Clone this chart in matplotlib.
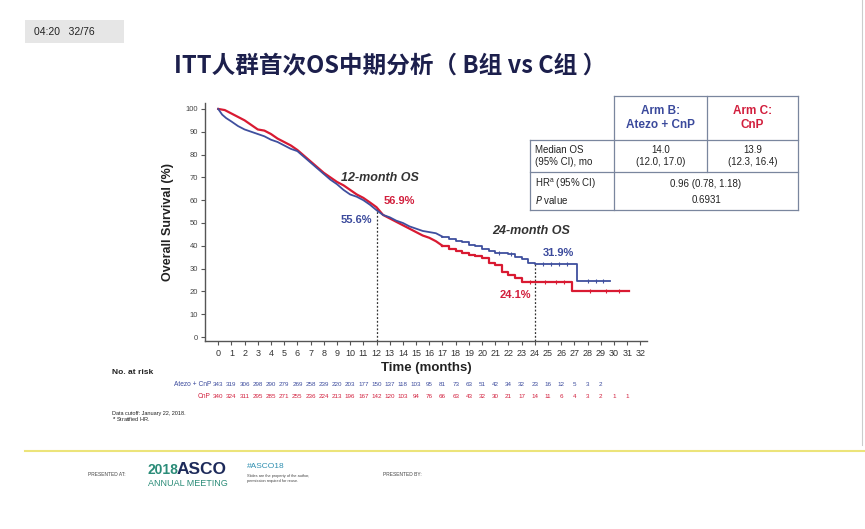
"""
ITT OS interim analysis slide (Arm B vs Arm C), KM curves with at-risk table
"""
import matplotlib
matplotlib.use("Agg")
import matplotlib.pyplot as plt
from matplotlib.patches import Rectangle
from matplotlib.lines import Line2D
import numpy as np

# ---- data ----
blue_t = [0, 0.3, 0.6, 1.0, 1.5, 2.0, 2.5, 3.0, 3.5, 4.0, 4.5, 5.0, 5.5, 6.0,
          6.5, 7.0, 7.5, 8.0, 8.5, 9.0, 9.5, 10.0, 10.5, 11.0, 11.5, 12.0,
          12.5, 13.0, 13.5, 14.0, 14.5, 15.0, 15.5, 16.0, 16.5, 17.0, 17.5,
          18.0, 18.5, 19.0, 19.5, 20.0, 20.5, 21.0, 22.0, 22.5, 23.0, 23.5,
          24.0, 27.2, 29.7]
blue_s = [100, 97.5, 96, 94.5, 92.5, 91, 90, 89, 88, 86.5, 85.5, 84, 82.5,
          81.5, 79, 76.5, 74, 71.5, 69, 67, 64.5, 62.5, 61.5, 60, 58, 55.6,
          53.5, 52.5, 51, 50, 48.5, 47.5, 46.5, 46, 45.5, 44, 43, 42, 41.5,
          40.5, 40, 38.5, 37.5, 37, 36.5, 35, 34, 32.5, 31.9, 24.5, 24.5]

red_t = [0, 0.5, 1.0, 1.5, 2.0, 2.5, 3.0, 3.5, 4.0, 4.5, 5.0, 5.5, 6.0, 6.5,
         7.0, 7.5, 8.0, 8.5, 9.0, 9.5, 10.0, 10.5, 11.0, 11.5, 12.0, 12.5,
         13.0, 13.5, 14.0, 14.5, 15.0, 15.5, 16.0, 16.5, 17.0, 17.5, 18.0,
         18.5, 19.0, 19.5, 20.0, 20.5, 21.0, 21.5, 22.0, 22.5, 23.0, 26.8,
         31.1]
red_s = [100, 99.5, 98, 96.5, 95, 93, 91, 90.5, 89, 87, 85.5, 84, 82, 79.5,
         77, 74.5, 72, 70, 68, 66.5, 64.5, 62.5, 61, 59, 56.9, 53.5, 52, 50.5,
         49, 47.5, 46, 44.5, 43.5, 42, 40, 38.5, 37.5, 37, 36, 35.5, 34.5,
         32.5, 31.5, 28.5, 27, 26, 24.1, 20, 20]

blue_cens = [21.3, 22.2, 24.6, 25.2, 25.8, 26.4, 28.0, 28.6, 29.2]
red_cens = [23.6, 24.8, 25.6, 26.2, 28.2, 29.4, 30.4]

risk_blue = [343, 319, 306, 298, 290, 279, 269, 258, 239, 220, 203, 177, 150,
             137, 118, 103, 95, 81, 73, 63, 51, 42, 34, 32, 23, 16, 12, 5, 3, 2]
risk_red = [340, 324, 311, 295, 285, 271, 255, 236, 224, 213, 196, 167, 142,
            120, 103, 94, 76, 66, 63, 43, 32, 30, 21, 17, 14, 11, 6, 4, 3, 2,
            1, 1]

landmarks = [12, 24]
blue_land = [55.6, 31.9]
red_land = [56.9, 24.1]

# where the curves stop looking continuous and show clear steps
blue_step_from = 17.0
red_step_from = 17.0

BLUE = "#3f4f9e"
RED = "#d91a32"
BLUE_TXT = "#3b4a9c"
RED_TXT = "#d21f3d"
EN = ["Liberation Sans", "DejaVu Sans"]
CJK = ["Noto Sans CJK SC", "DejaVu Sans"]

W, H = 865, 529


def fx(x):
    return x / W


def fy(y):
    return 1 - y / H


def step_at(ts, ss, t):
    i = np.searchsorted(ts, t, side="right") - 1
    return ss[i]


def km_curve(ax, ts, ss, t_step, color, lw, z):
    """dense part drawn as a line, sparse tail as steps"""
    ts = np.asarray(ts)
    ss = np.asarray(ss)
    k = np.searchsorted(ts, t_step)
    ax.plot(ts[:k + 1], ss[:k + 1], color=color, lw=lw, zorder=z,
            solid_joinstyle="round")
    ax.step(ts[k:], ss[k:], where="post", color=color, lw=lw, zorder=z)


fig = plt.figure(figsize=(W / 100, H / 100), dpi=100)
fig.patch.set_facecolor("white")

# overlay in pixel coords for slide decorations
ov = fig.add_axes([0, 0, 1, 1])
ov.set_xlim(0, W)
ov.set_ylim(H, 0)
ov.axis("off")
ov.set_zorder(0)

# time stamp box
ov.add_patch(Rectangle((25, 20), 99, 23, facecolor="#e6e6e6", edgecolor="none"))
ov.text(34, 32, "04:20   32/76", fontsize=7.5, family=EN, color="#222222",
        va="center")

# title
ov.text(390, 66, "ITT人群首次OS中期分析（ B组 vs C组 ）", fontsize=17,
        family=CJK, weight="heavy", color="#1c1f4c", ha="center", va="center")

# ---- KM axes ----
ax = fig.add_axes([fx(205), fy(341), fx(647) - fx(205), fy(103) - fy(341)])
ax.set_zorder(2)
ax.patch.set_alpha(0)
ax.set_xlim(-1, 32.5)
ax.set_ylim(-1.75, 102.6)

km_curve(ax, red_t, red_s, red_step_from, RED, 1.6, 3)
km_curve(ax, blue_t, blue_s, blue_step_from, BLUE, 1.3, 4)
ax.plot(blue_cens, [step_at(blue_t, blue_s, t) for t in blue_cens], ls="none",
        marker="|", ms=3, mew=0.8, color=BLUE, zorder=4)
ax.plot(red_cens, [step_at(red_t, red_s, t) for t in red_cens], ls="none",
        marker="|", ms=3, mew=0.8, color=RED, zorder=4)

for t, b, r in zip(landmarks, blue_land, red_land):
    ax.vlines(t, ax.get_ylim()[0], max(b, r), colors="#333333",
              linestyles=(0, (1.5, 1.5)), lw=0.9, zorder=2)

for side in ["top", "right"]:
    ax.spines[side].set_visible(False)
for side in ["left", "bottom"]:
    ax.spines[side].set_color("#555555")
    ax.spines[side].set_linewidth(1.0)
ax.set_xticks(range(0, 33))
ax.set_yticks(range(0, 101, 10))
ax.tick_params(axis="both", length=3, width=0.8, color="#555555",
               labelsize=5.5, labelcolor="#444444", pad=2)
for lab in ax.get_xticklabels() + ax.get_yticklabels():
    lab.set_family(EN)
ax.tick_params(axis="x", labelsize=6.5, labelcolor="#333333", pad=3)

ax.set_ylabel("Overall Survival (%)", fontsize=9, weight="bold", family=EN,
              color="#222222", labelpad=8)
ax.set_xlabel("Time (months)", fontsize=9.5, weight="bold", family=EN,
              color="#222222", labelpad=3)

# landmark annotations
ax.text(9.3, 69.5, "12-month OS", fontsize=9, weight="bold", style="italic",
        family=EN, color="#333333", va="center")
ax.text(12.5, 59.5, f"{red_land[0]}%", fontsize=8, weight="bold", family=EN,
        color=RED_TXT, va="center")
ax.text(11.7, 51.5, f"{blue_land[0]}%", fontsize=8, weight="bold", family=EN,
        color=BLUE_TXT, va="center", ha="right")
ax.text(20.8, 46.5, "24-month OS", fontsize=9, weight="bold", style="italic",
        family=EN, color="#333333", va="center")
ax.text(24.6, 36.8, f"{blue_land[1]}%", fontsize=8, weight="bold", family=EN,
        color=BLUE_TXT, va="center")
ax.text(23.7, 18.5, f"{red_land[1]}%", fontsize=8, weight="bold", family=EN,
        color=RED_TXT, va="center", ha="right")

# at-risk table, x in data coords, y in pixels
trans = matplotlib.transforms.blended_transform_factory(ax.transData,
                                                        ov.transData)
ov.text(112, 372, "No. at risk", fontsize=6, weight="bold", family=EN,
        color="#222222", va="center")
ov.text(211, 385, "Atezo + CnP", fontsize=4.8, family=EN,
        color=BLUE_TXT, ha="right", va="center")
ov.text(211, 397, "CnP", fontsize=4.8, family=EN, color=RED_TXT,
        ha="right", va="center")
for i, n in enumerate(risk_blue):
    ov.text(i, 385, str(n), fontsize=4.5, family=EN, color=BLUE_TXT,
            ha="center", va="center", transform=trans)
for i, n in enumerate(risk_red):
    ov.text(i, 397, str(n), fontsize=4.5, family=EN, color=RED_TXT,
            ha="center", va="center", transform=trans)

ov.text(112, 413, "Data cutoff: January 22, 2018.", fontsize=4, family=EN,
        color="#222222", va="center")
ov.text(112, 420, "$^{a}$ Stratified HR.", fontsize=4, family=EN,
        color="#222222", va="center")

# ---- results table ----
tc = "#7a869e"
c0, c1, c2, c3 = 530, 614, 707, 798
r0, r1, r2, r3 = 96, 140, 172, 210
lw_t = 0.9
for (x0, y0, x1, y1) in [(c1, r0, c3, r0), (c0, r1, c3, r1), (c0, r2, c3, r2),
                         (c0, r3, c3, r3), (c0, r1, c0, r3), (c1, r0, c1, r3),
                         (c2, r0, c2, r2), (c3, r0, c3, r3)]:
    ov.add_line(Line2D([x0, x1], [y0, y1], color=tc, lw=lw_t))
ov.text((c1 + c2) / 2, (r0 + r1) / 2, "Arm B:\nAtezo + CnP", fontsize=8.5,
        weight="bold", family=EN, color=BLUE_TXT, ha="center", va="center",
        linespacing=1.3)
ov.text((c2 + c3) / 2, (r0 + r1) / 2, "Arm C:\nCnP", fontsize=8.5,
        weight="bold", family=EN, color=RED_TXT, ha="center", va="center",
        linespacing=1.3)
ov.text(c0 + 5, (r1 + r2) / 2, "Median OS\n(95% CI), mo", fontsize=7,
        family=EN, color="#222222", va="center", linespacing=1.25)
ov.text((c1 + c2) / 2, (r1 + r2) / 2, "14.0\n(12.0, 17.0)", fontsize=7,
        family=EN, color="#222222", ha="center", va="center", linespacing=1.25)
ov.text((c2 + c3) / 2, (r1 + r2) / 2, "13.9\n(12.3, 16.4)", fontsize=7,
        family=EN, color="#222222", ha="center", va="center", linespacing=1.25)
ov.text(c0 + 5, r2 + 12, "HR$^{\\mathregular{a}}$ (95% CI)", fontsize=7,
        family=EN, color="#222222", va="center")
ov.text(c0 + 5, r2 + 28, "$\\mathit{P}$ value", fontsize=7, family=EN,
        color="#222222", va="center")
ov.text((c1 + c3) / 2, r2 + 12, "0.96 (0.78, 1.18)", fontsize=7, family=EN,
        color="#222222", ha="center", va="center")
ov.text((c1 + c3) / 2, r2 + 28, "0.6931", fontsize=7, family=EN,
        color="#222222", ha="center", va="center")

# ---- footer ----
ov.add_line(Line2D([25, W], [451, 451], color="#ece47a", lw=1.5))
ov.add_line(Line2D([862, 862], [0, 445], color="#cccccc", lw=0.8))
ov.text(88, 474, "PRESENTED AT:", fontsize=3.5, family=EN, color="#444444",
        va="center")
ov.text(147, 470, "2018", fontsize=10, family=EN, color="#2b8c78",
        va="center", weight="bold")
ov.text(177, 469, "ASCO", fontsize=12.5, family=EN, color="#1d2a5a",
        va="center", weight="bold")
ov.text(148, 484, "ANNUAL MEETING", fontsize=6.5, family=EN, color="#2b8c78",
        va="center")
ov.text(247, 466, "#ASCO18", fontsize=6, family=EN, color="#2f8fb0",
        va="center")
ov.text(247, 476, "Slides are the property of the author,", fontsize=2.8,
        family=EN, color="#444444", va="center")
ov.text(247, 481, "permission required for reuse.", fontsize=2.8, family=EN,
        color="#444444", va="center")
ov.text(383, 474, "PRESENTED BY:", fontsize=3.5, family=EN, color="#444444",
        va="center")

fig.savefig("out.png", dpi=100)
